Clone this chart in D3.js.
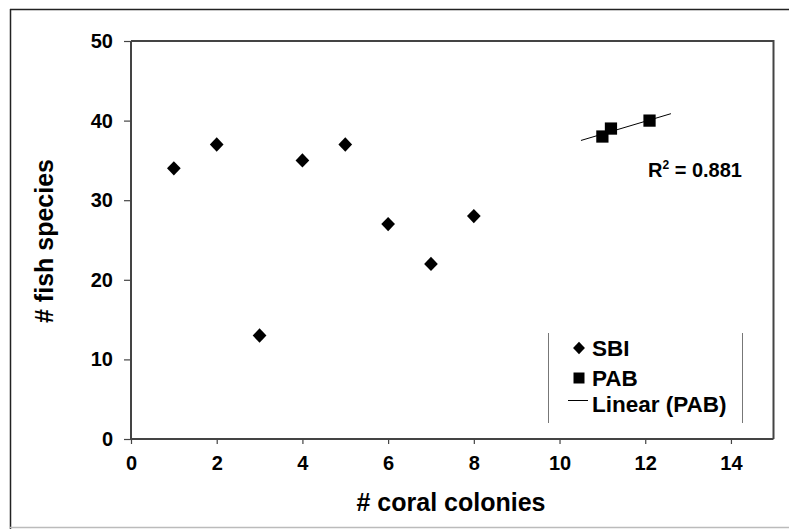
<!DOCTYPE html>
<html>
<head>
<meta charset="utf-8">
<script src="https://cdn.jsdelivr.net/npm/d3@7"></script>
<style>
  body { margin: 0; background: #fff; }
  text { font-family: "Liberation Sans", Arial, sans-serif; font-weight: bold; fill: #000; }
</style>
</head>
<body>
<div id="chart"></div>
<script>
// data
let sbiX = [1, 2, 3, 4, 5, 6, 7, 8];
let sbiY = [34, 37, 13, 35, 37, 27, 22, 28];
let pabX = [11, 11.2, 12.1];
let pabY = [38, 39, 40];
let xTicks = [0, 2, 4, 6, 8, 10, 12, 14];
let yTicks = [0, 10, 20, 30, 40, 50];
let legendNames = ["SBI", "PAB", "Linear (PAB)"];

let width = 789;
let height = 529;
// plot area
let plotLeft = 131, plotRight = 773.5, plotTop = 41, plotBottom = 439;

let svg = d3.select("#chart")
    .append("svg")
    .attr("width", width)
    .attr("height", height);

// outer frame (only partly visible in the scan)
svg.append("line").attr("x1", 10.5).attr("x2", 10.5).attr("y1", 9).attr("y2", 529)
    .attr("stroke", "#222").attr("stroke-width", 1.5);
svg.append("line").attr("x1", 10).attr("x2", 789).attr("y1", 9.5).attr("y2", 9.5)
    .attr("stroke", "#222").attr("stroke-width", 1.5);
svg.append("line").attr("x1", 10).attr("x2", 789).attr("y1", 527.5).attr("y2", 527.5)
    .attr("stroke", "#bbb").attr("stroke-width", 1.5);

let xScale = d3.scaleLinear().domain([0, 15]).range([plotLeft, plotRight + 0.3]);
let yScale = d3.scaleLinear().domain([0, 50]).range([plotBottom, plotTop]);

// plot area border, top and right
svg.append("path")
    .attr("d", "M" + plotLeft + "," + plotTop + "H" + plotRight + "V" + plotBottom)
    .attr("fill", "none")
    .attr("stroke", "#444")
    .attr("stroke-width", 2);

// axes
let xAxis = d3.axisBottom(xScale).tickValues(xTicks).tickSize(5).tickPadding(12).tickSizeOuter(0);
let yAxis = d3.axisLeft(yScale).tickValues(yTicks).tickSize(7).tickPadding(11).tickSizeOuter(0);

let gx = svg.append("g")
    .attr("transform", "translate(0," + plotBottom + ")")
    .call(xAxis);
let gy = svg.append("g")
    .attr("transform", "translate(" + plotLeft + ",0)")
    .call(yAxis);

[gx, gy].forEach(function(g) {
    g.select(".domain").attr("stroke", "#444").attr("stroke-width", 2);
    g.selectAll(".tick line").attr("stroke", "#444").attr("stroke-width", 1.2);
    g.selectAll(".tick text")
        .attr("font-size", 20)
        .attr("font-family", "Liberation Sans, Arial, sans-serif")
        .attr("font-weight", "bold")
        .attr("fill", "#000");
});
gx.select(".domain").attr("d", "M" + plotLeft + ",0H" + plotRight);
gy.select(".domain").attr("d", "M0," + plotBottom + "V" + plotTop);

// axis titles
svg.append("text")
    .attr("x", 451)
    .attr("y", 511)
    .attr("text-anchor", "middle")
    .attr("font-size", 25)
    .text("# coral colonies");
svg.append("text")
    .attr("transform", "translate(53,241) rotate(-90)")
    .attr("text-anchor", "middle")
    .attr("font-size", 25)
    .text("# fish species");

// trendline for PAB (least squares), extended 0.5 both ways
let mx = d3.mean(pabX), my = d3.mean(pabY);
let sxy = d3.sum(pabX, function(d, i) { return (d - mx) * (pabY[i] - my); });
let sxx = d3.sum(pabX, function(d) { return (d - mx) * (d - mx); });
let syy = d3.sum(pabY, function(d) { return (d - my) * (d - my); });
let slope = sxy / sxx;
let icpt = my - slope * mx;
let r2 = (sxy * sxy) / (sxx * syy);
let tx0 = d3.min(pabX) - 0.5, tx1 = d3.max(pabX) + 0.5;

svg.append("line")
    .attr("x1", xScale(tx0)).attr("y1", yScale(icpt + slope * tx0))
    .attr("x2", xScale(tx1)).attr("y2", yScale(icpt + slope * tx1))
    .attr("stroke", "#000")
    .attr("stroke-width", 1);

let diamond = d3.symbol().type(d3.symbolDiamond2).size(120);
let square = d3.symbol().type(d3.symbolSquare).size(150);

// SBI diamonds
svg.selectAll(".sbi")
    .data(sbiX)
    .enter()
    .append("path")
    .attr("class", "sbi")
    .attr("d", diamond)
    .attr("transform", function(d, i) {
        return "translate(" + xScale(d) + "," + yScale(sbiY[i]) + ") scale(1,1.05)";
    })
    .attr("fill", "#000");

// PAB squares
svg.selectAll(".pab")
    .data(pabX)
    .enter()
    .append("path")
    .attr("class", "pab")
    .attr("d", square)
    .attr("transform", function(d, i) {
        return "translate(" + xScale(d) + "," + yScale(pabY[i]) + ")";
    })
    .attr("fill", "#000");

// R squared label
let rText = svg.append("text")
    .attr("x", 648)
    .attr("y", 177)
    .attr("font-size", 20);
rText.append("tspan").text("R");
rText.append("tspan").attr("dy", -8).attr("font-size", 12).text("2");
rText.append("tspan").attr("dy", 8).text(" = " + r2.toFixed(3));

// legend
let legend = svg.append("g");
legend.append("line").attr("x1", 548.5).attr("x2", 548.5).attr("y1", 333).attr("y2", 423)
    .attr("stroke", "#777").attr("stroke-width", 1);
legend.append("line").attr("x1", 742.5).attr("x2", 742.5).attr("y1", 333).attr("y2", 423)
    .attr("stroke", "#777").attr("stroke-width", 1);

let rowY = [348, 378, 404];
legend.append("path")
    .attr("d", d3.symbol().type(d3.symbolDiamond2).size(90))
    .attr("transform", "translate(579," + rowY[0] + ") scale(1,1.05)");
legend.append("path")
    .attr("d", d3.symbol().type(d3.symbolSquare).size(121))
    .attr("transform", "translate(579," + rowY[1] + ")");
legend.append("line")
    .attr("x1", 568).attr("x2", 588)
    .attr("y1", rowY[2] - 3.5).attr("y2", rowY[2] - 3.5)
    .attr("stroke", "#000").attr("stroke-width", 1);

legend.selectAll(".ltext")
    .data(legendNames)
    .enter()
    .append("text")
    .attr("class", "ltext")
    .attr("x", 592)
    .attr("y", function(d, i) { return rowY[i] + 7.5; })
    .attr("font-size", 22.5)
    .text(function(d) { return d; });
</script>
</body>
</html>
